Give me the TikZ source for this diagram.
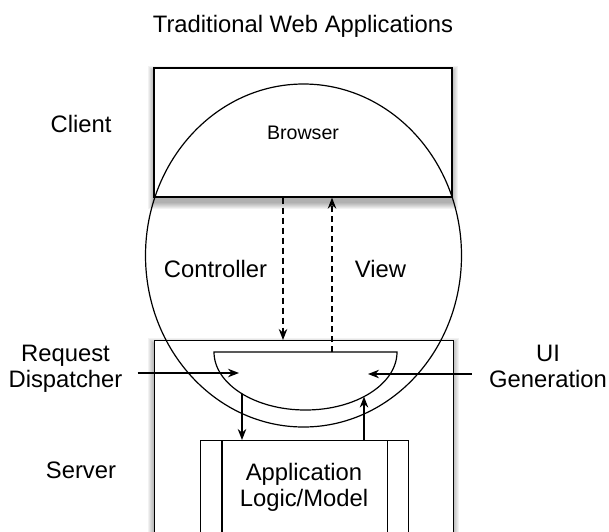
\documentclass[tikz,border=0pt]{standalone}
\usepackage{fontspec}
\setmainfont{Liberation Sans}
\usetikzlibrary{arrows.meta, positioning}

\begin{document}
\begin{tikzpicture}[x=1pt, y=-1pt]
\tikzstyle{box} = [rectangle, draw=black, line width=1.3pt, fill=white, inner sep=0pt]
\tikzstyle{lbl} = [font=\fontsize{23.8}{26}\selectfont, inner sep=0pt, align=center]
\tikzstyle{arrow} = [line width=1.3pt, -{Stealth[length=11pt, width=8.5pt]}]
\tikzstyle{flow} = [arrow, dash pattern=on 6pt off 4pt]
\tikzstyle{curve} = [line width=1.2pt]

\useasboundingbox (0,0) rectangle (609,531);
\clip (0,0) rectangle (609,531);

% Shadows
\foreach \s in {1,...,7} {
  \fill[black, opacity=0.05] (155-\s, 73-\s) rectangle (451+\s, 202+\s);
  \fill[black, opacity=0.05] (155-\s, 345-\s) rectangle (452+\s, 570);
}

% Boxes
\node[box, minimum width=298pt, minimum height=129pt, font=\fontsize{19.6}{22}\selectfont] (browser) at (303,132.5) {Browser};
\node[box, minimum width=299pt, minimum height=230pt, anchor=north west] (server) at (154,340) {};
\node[box, minimum width=208pt, minimum height=150pt, anchor=north west] (logic) at (200,440) {};
\draw[curve] ([xshift=22pt]logic.north west) -- ([xshift=22pt]logic.south west);
\draw[curve] ([xshift=-22pt]logic.north east) -- ([xshift=-22pt]logic.south east);
\node[lbl] (logictxt) at (304,487) {Application\\Logic/Model};

% Controller / view circle
\draw[curve] (303.5,255.5) ellipse [x radius=158pt, y radius=171.5pt];

% Dispatcher bowl
\coordinate (disp) at (305.5,352);
\draw[curve] (214,352) -- (397,352) arc[start angle=0, end angle=-180, x radius=91.5pt, y radius=58pt] -- cycle;
\coordinate (reqin) at (239,373);
\coordinate (uiin) at (368,374);
\coordinate (dispout) at (242,393.8);
\coordinate (genin) at (364,396.6);

% Arrows
\draw[flow] (browser.south -| 283,0) -- (server.north -| 283,0);
\draw[flow] (disp -| 332,0) -- (browser.south -| 332,0);
\draw[arrow] (dispout) -- (logic.north -| dispout);
\draw[arrow] (logic.north -| genin) -- (genin);

% Labels
\node[lbl, anchor=base] (title) at (303,32) {Traditional Web Applications};
\node[lbl, anchor=base] (client) at (81,132) {Client};
\node[lbl, anchor=base] (serverlbl) at (81,478) {Server};
\node[lbl, anchor=base] (controller) at (215.5,277) {Controller};
\node[lbl, anchor=base] (view) at (380.5,277) {View};
\node[lbl] (reqdisp) at (65.5,369) {Request\\Dispatcher};
\node[lbl] (uigen) at (548,366.5) {UI\\Generation};

\draw[arrow] ([xshift=15pt]reqdisp.east |- reqin) -- (reqin);
\draw[arrow] ([xshift=-17pt]uigen.west |- uiin) -- (uiin);
\end{tikzpicture}
\end{document}
